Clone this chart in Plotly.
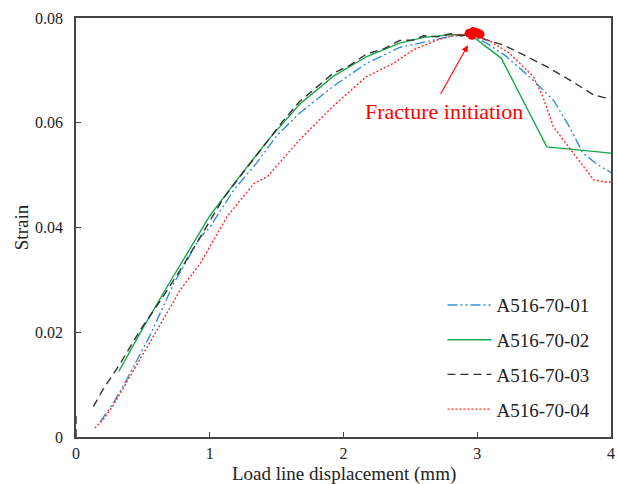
import plotly.graph_objects as go

# A516-70-01 (blue dash-dot)
x01 = [0.18, 0.28, 0.38, 0.55, 0.73, 0.93, 1.0, 1.18, 1.35, 1.5, 1.67, 1.92, 2.17, 2.42, 2.57, 2.8, 2.95,
       3.07, 3.2, 3.39, 3.57, 3.69, 3.79, 3.9, 4.0]
y01 = [0.0029, 0.0065, 0.011, 0.0192, 0.0293, 0.0382, 0.040, 0.0472, 0.0523, 0.0575, 0.0618, 0.0669, 0.0713,
       0.0744, 0.0752, 0.0765, 0.0768, 0.0752, 0.073, 0.0688, 0.0643, 0.0592, 0.0542, 0.052, 0.0505]

# A516-70-02 (green solid)
x02 = [0.32, 0.5, 0.7, 0.85, 1.0, 1.2, 1.43, 1.67, 1.92, 2.17, 2.42, 2.6, 2.8, 2.95, 3.18, 3.52, 4.0]
y02 = [0.0125, 0.0208, 0.0295, 0.0358, 0.0422, 0.049, 0.0565, 0.0635, 0.0688, 0.0726, 0.0752, 0.0763,
       0.0768, 0.0768, 0.0723, 0.0554, 0.0542]

# A516-70-03 (black dashed)
x03 = [0.0, 0.0, None, 0.13, 0.2, 0.33, 0.48, 0.63, 0.78, 0.93, 1.1, 1.25, 1.43, 1.55, 1.67, 1.8, 1.92,
       2.05, 2.17, 2.3, 2.42, 2.52, 2.6, 2.7, 2.8, 2.88, 2.95, 3.07, 3.2, 3.32, 3.52, 3.69, 3.87, 3.95, 4.0]
y03 = [0.0, 0.004, None, 0.0058, 0.009, 0.014, 0.0204, 0.026, 0.0319, 0.0382, 0.0455, 0.0505, 0.0565,
       0.0604, 0.0640, 0.0668, 0.0694, 0.0710, 0.0731, 0.0741, 0.0757, 0.0758, 0.0766, 0.0764, 0.0770,
       0.0766, 0.0769, 0.0758, 0.0748, 0.0733, 0.0707, 0.0682, 0.0653, 0.0648, 0.0647]

# A516-70-04 (red dotted)
x04 = [0.14, 0.2, 0.28, 0.39, 0.58, 0.78, 0.93, 1.13, 1.33, 1.43, 1.67, 1.92, 2.17, 2.37, 2.52, 2.7, 2.85,
       2.95, 3.1, 3.24, 3.42, 3.49, 3.57, 3.72, 3.87, 3.95, 4.0]
y04 = [0.0017, 0.0032, 0.0061, 0.011, 0.0192, 0.0281, 0.0332, 0.0421, 0.0484, 0.0497, 0.0567, 0.0631,
       0.0688, 0.0713, 0.0739, 0.0758, 0.0768, 0.077, 0.0755, 0.0733, 0.0688, 0.065, 0.0592, 0.0542,
       0.0491, 0.0487, 0.0487]

# Fracture initiation points
xf = [2.94, 2.97, 3.0, 3.02, 2.96]
yf = [0.0771, 0.0774, 0.0772, 0.0769, 0.0767]

FONT = "Liberation Serif"

fig = go.Figure()
fig.add_trace(go.Scatter(x=x01, y=y01, mode="lines", name="A516-70-01", legendgroup="a",
                         line=dict(color="#2f8fd8", width=1.4, dash="10px,3px,2px,3px,2px,3px")))
fig.add_trace(go.Scatter(x=x02, y=y02, mode="lines", name="A516-70-02", legendgroup="b",
                         line=dict(color="#16a84a", width=1.4)))
fig.add_trace(go.Scatter(x=x03, y=y03, mode="lines", name="A516-70-03", legendgroup="c",
                         line=dict(color="#333333", width=1.4, dash="8px,5px")))
fig.add_trace(go.Scatter(x=x04, y=y04, mode="lines", name="A516-70-04", legendgroup="d",
                         line=dict(color="#ff2a2a", width=1.4, dash="2px,2px")))
fig.add_trace(go.Scatter(x=xf, y=yf, mode="markers", showlegend=False,
                         marker=dict(color="#ff0000", size=9)))

fig.add_annotation(x=2.75, y=0.0621, text="Fracture initiation", showarrow=False,
                   font=dict(family=FONT, size=22, color="#ff0000"))
fig.add_annotation(x=2.93, y=0.0748, ax=2.72, ay=0.0652, axref="x", ayref="y", text="",
                   showarrow=True, arrowhead=2, arrowsize=1.2, arrowwidth=1.1, arrowcolor="#ff0000")
# x axis title placed below the tick labels
fig.add_annotation(x=0.5, y=-0.088, xref="paper", yref="paper", yanchor="middle",
                   text="Load line displacement (mm)", showarrow=False,
                   font=dict(family=FONT, size=19, color="#222"))

axis_common = dict(showgrid=False, zeroline=False, showline=True, linecolor="#444", linewidth=1.5,
                   mirror=True, ticks="inside", ticklen=5, tickcolor="#444", tickwidth=1.2,
                   automargin=False,
                   tickfont=dict(family=FONT, size=16, color="#222"))
fig.update_xaxes(range=[0, 4], dtick=1, tick0=0, ticklabelstandoff=1, **axis_common)
fig.update_yaxes(range=[0, 0.08], dtick=0.02, tick0=0, ticklabelstandoff=8,
                 title=dict(text="Strain", font=dict(family=FONT, size=19, color="#222"), standoff=1),
                 **axis_common)

fig.update_layout(
    width=617, height=484,
    margin=dict(l=76, r=6, t=18, b=47),
    paper_bgcolor="white", plot_bgcolor="white",
    showlegend=True,
    legend=dict(x=0.685, y=0.36, xanchor="left", yanchor="top", bgcolor="rgba(0,0,0,0)",
                font=dict(family=FONT, size=19, color="#222"), tracegroupgap=7, itemwidth=44),
)

fig.write_html("out.html")
